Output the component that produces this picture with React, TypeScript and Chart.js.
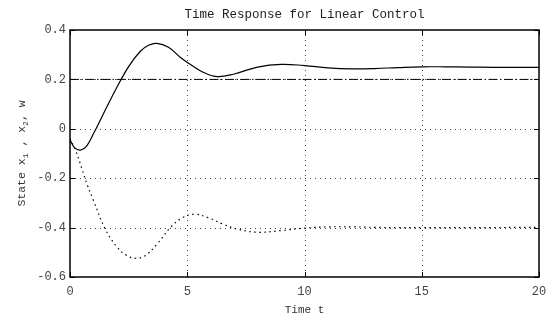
import React, { useEffect, useRef } from "react";
import { Chart, registerables } from "chart.js";

Chart.register(...registerables);

// State x1 (solid)
const timeX1 = [0, 0.2, 0.45, 0.7, 1.0, 1.5, 2.0, 2.5, 3.0, 3.35, 3.7, 4.2, 4.7, 5.2, 5.7, 6.3, 7.0, 8.0, 9.0, 10.0, 11.0, 12.0, 13.0, 14.0, 15.0, 16.0, 17.0, 18.0, 20.0];
const stateX1 = [-0.045, -0.077, -0.086, -0.071, -0.02, 0.075, 0.168, 0.252, 0.314, 0.338, 0.346, 0.33, 0.29, 0.256, 0.228, 0.211, 0.222, 0.25, 0.261, 0.256, 0.247, 0.243, 0.244, 0.248, 0.251, 0.251, 0.25, 0.249, 0.249];

// State x2 (dotted)
const timeX2 = [0, 0.25, 0.5, 0.75, 1.0, 1.5, 2.0, 2.4, 2.8, 3.2, 3.7, 4.3, 4.8, 5.3, 5.9, 6.5, 7.1, 8.0, 9.0, 10.0, 11.0, 12.0, 13.0, 14.0, 15.0, 17.0, 20.0];
const stateX2 = [-0.04, -0.09, -0.16, -0.23, -0.29, -0.405, -0.478, -0.512, -0.524, -0.514, -0.468, -0.398, -0.36, -0.346, -0.36, -0.385, -0.405, -0.419, -0.412, -0.402, -0.397, -0.397, -0.399, -0.4, -0.4, -0.4, -0.399];

// Reference w (dash-dot)
const timeW = [0, 20];
const valueW = [0.2, 0.2];

const xTickValues = [0, 5, 10, 15, 20];
const yTickValues = [-0.6, -0.4, -0.2, 0, 0.2, 0.4];

const titleText = "Time Response for Linear Control";
const xLabelText = "Time t";

const FONT = "'Liberation Mono', 'DejaVu Sans Mono', monospace";

export default function App() {
  const ref = useRef<HTMLCanvasElement>(null);

  useEffect(() => {
    document.body.style.margin = "0";
    const canvas = ref.current!;

    const decor = {
      id: "decor",
      beforeDatasetsDraw(chart: any) {
        const { ctx, chartArea: a, scales } = chart;
        const xs = scales.x;
        const ys = scales.y;
        ctx.save();
        ctx.strokeStyle = "#444";
        ctx.lineWidth = 1;
        ctx.setLineDash([1, 4]);
        xTickValues.forEach((v) => {
          const px = Math.round(xs.getPixelForValue(v)) + 0.5;
          if (px <= a.left + 2 || px >= a.right - 2) return;
          ctx.beginPath();
          ctx.moveTo(px, a.top);
          ctx.lineTo(px, a.bottom);
          ctx.stroke();
        });
        yTickValues.forEach((v) => {
          const py = Math.round(ys.getPixelForValue(v)) + 0.5;
          if (py <= a.top + 2 || py >= a.bottom - 2) return;
          ctx.beginPath();
          ctx.moveTo(a.left, py);
          ctx.lineTo(a.right, py);
          ctx.stroke();
        });
        ctx.restore();
      },
      afterDraw(chart: any) {
        const { ctx, chartArea: a, scales } = chart;
        const xs = scales.x;
        const ys = scales.y;
        ctx.save();
        // frame
        ctx.strokeStyle = "#000";
        ctx.lineWidth = 1.5;
        ctx.setLineDash([]);
        ctx.strokeRect(a.left, a.top, a.right - a.left, a.bottom - a.top);
        // inward tick marks
        ctx.lineWidth = 1;
        const tl = 5;
        xTickValues.forEach((v) => {
          const px = Math.round(xs.getPixelForValue(v)) + 0.5;
          ctx.beginPath();
          ctx.moveTo(px, a.bottom);
          ctx.lineTo(px, a.bottom - tl);
          ctx.moveTo(px, a.top);
          ctx.lineTo(px, a.top + tl);
          ctx.stroke();
        });
        yTickValues.forEach((v) => {
          const py = Math.round(ys.getPixelForValue(v)) + 0.5;
          ctx.beginPath();
          ctx.moveTo(a.left, py);
          ctx.lineTo(a.left + tl, py);
          ctx.moveTo(a.right, py);
          ctx.lineTo(a.right - tl, py);
          ctx.stroke();
        });
        // title
        const cx = (a.left + a.right) / 2;
        ctx.fillStyle = "#222";
        ctx.textAlign = "center";
        ctx.textBaseline = "middle";
        ctx.font = `12.5px ${FONT}`;
        ctx.fillText(titleText, cx, 15);
        // x label
        ctx.font = `11px ${FONT}`;
        ctx.fillStyle = "#333";
        ctx.fillText(xLabelText, cx, 310);
        // y label with subscripts
        const cy = (a.top + a.bottom) / 2;
        ctx.translate(21, cy);
        ctx.rotate(-Math.PI / 2);
        const parts: [string, boolean][] = [
          ["State x", false],
          ["1", true],
          [" , x", false],
          ["2", true],
          [", w", false],
        ];
        const mainFont = `11.5px ${FONT}`;
        const subFont = `8px ${FONT}`;
        let total = 0;
        parts.forEach(([t, sub]) => {
          ctx.font = sub ? subFont : mainFont;
          total += ctx.measureText(t).width;
        });
        let x = -total / 2;
        ctx.textAlign = "left";
        ctx.textBaseline = "alphabetic";
        parts.forEach(([t, sub]) => {
          ctx.font = sub ? subFont : mainFont;
          ctx.fillText(t, x, sub ? 7 : 4);
          x += ctx.measureText(t).width;
        });
        ctx.restore();
      },
    };

    const chart = new Chart(canvas, {
      type: "line",
      data: {
        datasets: [
          {
            label: "x1",
            data: timeX1.map((t, i) => ({ x: t, y: stateX1[i] })),
            borderColor: "#000",
            borderWidth: 1.2,
            pointRadius: 0,
            tension: 0.4,
            fill: false,
          },
          {
            label: "x2",
            data: timeX2.map((t, i) => ({ x: t, y: stateX2[i] })),
            borderColor: "#000",
            borderWidth: 1.2,
            borderDash: [1.5, 3.5],
            pointRadius: 0,
            tension: 0.4,
            fill: false,
          },
          {
            label: "w",
            data: timeW.map((t, i) => ({ x: t, y: valueW[i] })),
            borderColor: "#000",
            borderWidth: 1,
            borderDash: [9, 2.5, 1.5, 2.5],
            pointRadius: 0,
            fill: false,
          },
        ],
      },
      options: {
        responsive: false,
        animation: false,
        layout: { padding: { top: 30, right: 7, left: 0, bottom: 0 } },
        plugins: {
          legend: { display: false },
          title: { display: false },
          tooltip: { enabled: false },
        },
        scales: {
          x: {
            type: "linear",
            min: 0,
            max: 20,
            afterBuildTicks: (s: any) => {
              s.ticks = xTickValues.map((v) => ({ value: v }));
            },
            afterFit: (s: any) => {
              s.height = 46;
              s.paddingLeft = 0;
              s.paddingRight = 0;
            },
            grid: { display: false, drawTicks: false },
            border: { display: false },
            ticks: {
              padding: 8,
              maxRotation: 0,
              color: "#444",
              font: { family: FONT, size: 12 },
              callback: (v: any) => String(v),
            },
          },
          y: {
            type: "linear",
            min: -0.6,
            max: 0.4,
            afterBuildTicks: (s: any) => {
              s.ticks = yTickValues.map((v) => ({ value: v }));
            },
            afterFit: (s: any) => {
              s.width = 70;
              s.paddingTop = 0;
              s.paddingBottom = 0;
            },
            grid: { display: false, drawTicks: false },
            border: { display: false },
            ticks: {
              padding: 4,
              color: "#444",
              font: { family: FONT, size: 12 },
              callback: (v: any) => (Math.abs(v) < 1e-9 ? "0" : Number(v).toFixed(1)),
            },
          },
        },
      },
      plugins: [decor],
    } as any);

    return () => chart.destroy();
  }, []);

  return (
    <div style={{ width: 546, height: 323 }}>
      <canvas ref={ref} width={546} height={323} style={{ display: "block" }} />
    </div>
  );
}
